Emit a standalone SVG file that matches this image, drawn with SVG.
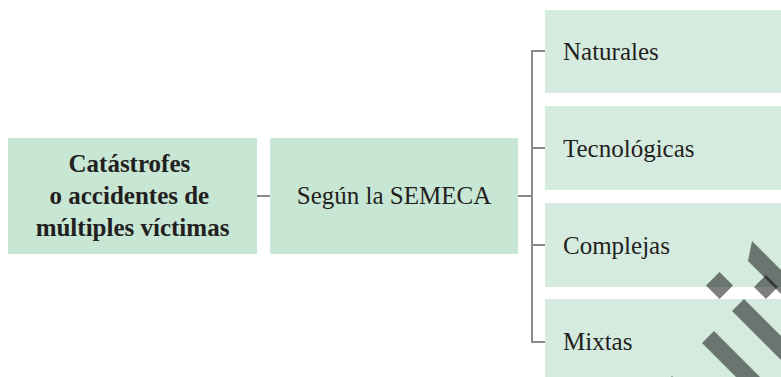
<svg xmlns="http://www.w3.org/2000/svg" width="781" height="377" viewBox="0 0 781 377">
  <style>
    .main { fill: #c8e6d4; }
    .leaf { fill: #d5ebdf; }
    .t { font-family: "Liberation Serif", "DejaVu Serif", serif; fill: #231f20; }
    .bold { font-weight: bold; font-size: 25px; }
    .mid { font-size: 25px; }
    .lbl { font-size: 25px; }
    .conn { stroke: #8a8a8a; stroke-width: 2; fill: none; }
    .deco { fill: #000; fill-opacity: 0.5; }
  </style>
  <rect width="781" height="377" fill="#ffffff"/>
  <g id="connectors">
    <line class="conn" x1="257" y1="196" x2="270" y2="196"/>
    <line class="conn" x1="518" y1="196" x2="532" y2="196"/>
    <path class="conn" d="M545 51 H532 V342 H545"/>
    <line class="conn" x1="532" y1="148" x2="545" y2="148"/>
    <line class="conn" x1="532" y1="245" x2="545" y2="245"/>
  </g>
  <g id="node-catastrofes">
    <rect class="main" x="8" y="138" width="249" height="116"/>
    <text class="t bold" text-anchor="middle">
      <tspan x="132.5" y="172">Catástrofes</tspan>
      <tspan x="132.5" y="204">o accidentes de</tspan>
      <tspan x="132.5" y="236">múltiples víctimas</tspan>
    </text>
  </g>
  <g id="node-semeca">
    <rect class="main" x="270" y="138" width="248" height="116"/>
    <text class="t mid" x="394" y="204" text-anchor="middle">Según la SEMECA</text>
  </g>
  <g id="node-naturales">
    <rect class="leaf" x="545" y="10" width="236" height="83"/>
    <text class="t lbl" x="563" y="60">Naturales</text>
  </g>
  <g id="node-tecnologicas">
    <rect class="leaf" x="545" y="106" width="236" height="84"/>
    <text class="t lbl" x="563" y="157">Tecnológicas</text>
  </g>
  <g id="node-complejas">
    <rect class="leaf" x="545" y="203" width="236" height="84"/>
    <text class="t lbl" x="563" y="254">Complejas</text>
  </g>
  <g id="node-mixtas">
    <rect class="leaf" x="545" y="299" width="236" height="84"/>
    <text class="t lbl" x="563" y="350">Mixtas</text>
  </g>
  <g id="decoration">
    <polygon class="deco" points="719.5,272 733,285.5 719.5,299 706,285.5"/>
    <polygon class="deco" points="766,275 778,287 766,299 754,287"/>
    <polygon class="deco" points="752,241 800,289 788,301 748,261"/>
    <polygon class="deco" points="744,299 824,379 812,391 732,311"/>
    <polygon class="deco" points="714,331 774,391 762,403 702,343"/>
    <polygon class="deco" points="672,376 684,388 672,400 660,388"/>
  </g>
</svg>
